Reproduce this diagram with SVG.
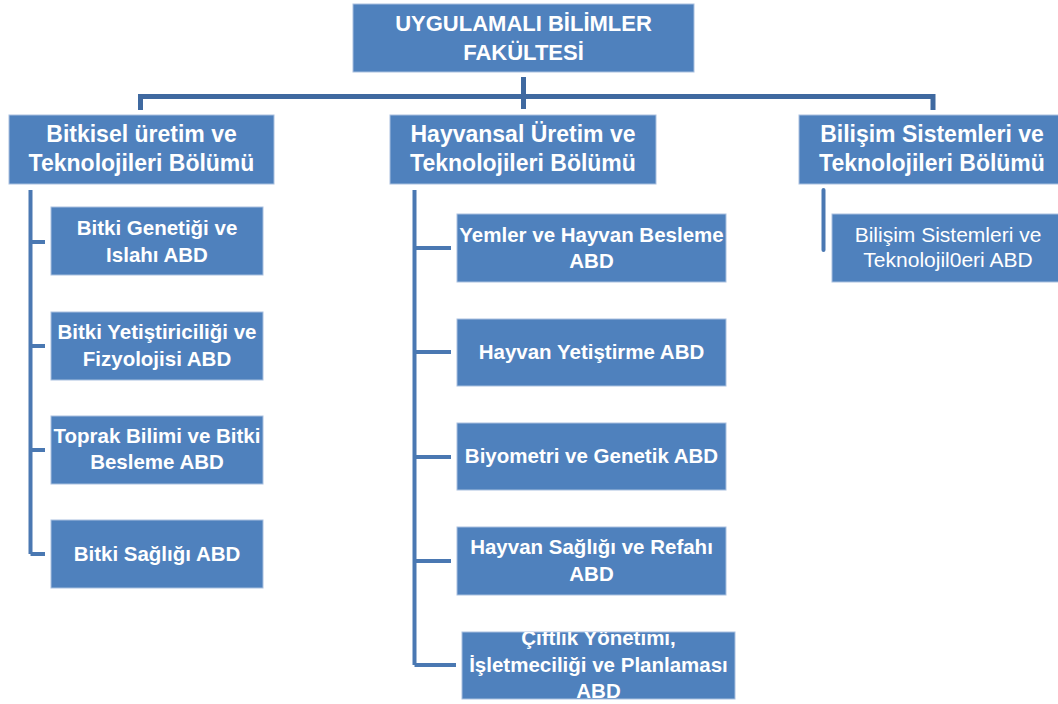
<svg xmlns="http://www.w3.org/2000/svg" width="1058" height="704" viewBox="0 0 1058 704">
<style>
.box{fill:#4F81BD;stroke:#A9C0DF;stroke-width:1}
.t{font-family:"Liberation Sans",Arial,sans-serif;fill:#fff;text-anchor:middle;font-weight:bold}
.top{font-size:22px}
.dep{font-size:23px}
.abd{font-size:20.5px}
.reg{font-size:21px;font-weight:normal}
.bar{stroke:#3F69A0;stroke-width:5;fill:none}
.ln{stroke:#4A78B2;stroke-width:4;fill:none}
</style>
<defs>
<clipPath id="c5"><rect x="462" y="632" width="273" height="67"/></clipPath>
</defs>
<rect width="1058" height="704" fill="#fff"/>
<g id="connectors">
<path class="bar" d="M523.5,77 V109 M140.5,110 V96.5 H933 V110"/>
<path class="ln" d="M30.5,190 V554 M30.5,242 H45 M30.5,346 H45 M30.5,450 H45 M30.5,554 H45"/>
<path class="ln" d="M414.5,190 V665 M414.5,248 H451 M414.5,352 H451 M414.5,457 H451 M414.5,561 H451 M414.5,665 H456"/>
<path class="ln" d="M823.5,190 V250" stroke-linecap="round"/>
</g>
<g id="n-top"><rect class="box" x="353" y="4" width="341" height="68"/>
<text class="t top" x="523.5" y="31">UYGULAMALI BİLİMLER</text>
<text class="t top" x="523.5" y="60">FAKÜLTESİ</text></g>
<g id="n-bitkisel"><rect class="box" x="9" y="115" width="265" height="69"/>
<text class="t dep" x="141.5" y="142">Bitkisel üretim ve</text>
<text class="t dep" x="141.5" y="171">Teknolojileri Bölümü</text></g>
<g id="n-hayvansal"><rect class="box" x="390" y="115" width="266" height="69"/>
<text class="t dep" x="523" y="142">Hayvansal Üretim ve</text>
<text class="t dep" x="523" y="171">Teknolojileri Bölümü</text></g>
<g id="n-bilisim"><rect class="box" x="799" y="115" width="266" height="69"/>
<text class="t dep" x="932" y="142">Bilişim Sistemleri ve</text>
<text class="t dep" x="932" y="171">Teknolojileri Bölümü</text></g>
<g id="n-b1"><rect class="box" x="51" y="207" width="212" height="68"/>
<text class="t abd" x="157" y="235">Bitki Genetiği ve</text>
<text class="t abd" x="157" y="262">Islahı ABD</text></g>
<g id="n-b2"><rect class="box" x="51" y="312" width="212" height="68"/>
<text class="t abd" x="157" y="339">Bitki Yetiştiriciliği ve</text>
<text class="t abd" x="157" y="366">Fizyolojisi ABD</text></g>
<g id="n-b3"><rect class="box" x="51" y="416" width="212" height="68"/>
<text class="t abd" x="157" y="443">Toprak Bilimi ve Bitki</text>
<text class="t abd" x="157" y="469">Besleme ABD</text></g>
<g id="n-b4"><rect class="box" x="51" y="520" width="212" height="68"/>
<text class="t abd" x="157" y="561">Bitki Sağlığı ABD</text></g>
<g id="n-h1"><rect class="box" x="457" y="214" width="269" height="68"/>
<text class="t abd" x="591.5" y="242">Yemler ve Hayvan Besleme</text>
<text class="t abd" x="591.5" y="268">ABD</text></g>
<g id="n-h2"><rect class="box" x="457" y="319" width="269" height="67"/>
<text class="t abd" x="591.5" y="359">Hayvan Yetiştirme ABD</text></g>
<g id="n-h3"><rect class="box" x="457" y="423" width="269" height="67"/>
<text class="t abd" x="591.5" y="463">Biyometri ve Genetik ABD</text></g>
<g id="n-h4"><rect class="box" x="457" y="527" width="269" height="68"/>
<text class="t abd" x="591.5" y="554">Hayvan Sağlığı ve Refahı</text>
<text class="t abd" x="591.5" y="581">ABD</text></g>
<g id="n-h5"><rect class="box" x="462" y="632" width="273" height="67"/>
<g clip-path="url(#c5)">
<text class="t abd" x="598.5" y="645">Çiftlik Yönetimi,</text>
<text class="t abd" x="598.5" y="672">İşletmeciliği ve Planlaması</text>
<text class="t abd" x="598.5" y="698">ABD</text></g></g>
<g id="n-s1"><rect class="box" x="832" y="214" width="233" height="68"/>
<text class="t reg" x="948" y="242">Bilişim Sistemleri ve</text>
<text class="t reg" x="948" y="267">Teknolojil0eri ABD</text></g>
</svg>
